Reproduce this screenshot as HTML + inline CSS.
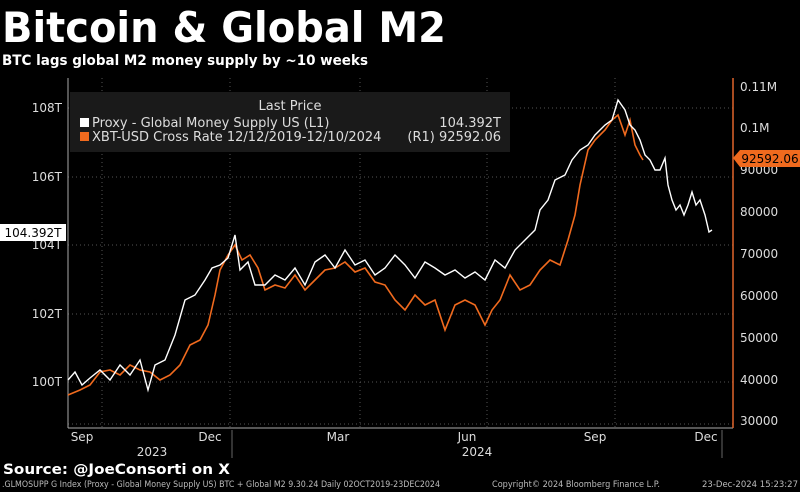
<!DOCTYPE html>
<html><head><style>
html,body{margin:0;padding:0;background:#000;}
svg{display:block}
text{font-family:"DejaVu Sans","Liberation Sans",sans-serif;}
</style></head><body>
<svg width="800" height="492" viewBox="0 0 800 492" xmlns="http://www.w3.org/2000/svg">
<rect width="800" height="492" fill="#000"/>
<text x="2" y="42" fill="#fff" font-size="42" font-weight="bold" textLength="444" lengthAdjust="spacingAndGlyphs">Bitcoin &amp; Global M2</text>
<text x="2" y="65" fill="#fff" font-size="14" font-weight="bold" textLength="366" lengthAdjust="spacingAndGlyphs">BTC lags global M2 money supply by ~10 weeks</text>
<g stroke="#555" stroke-width="1" stroke-dasharray="1,3">
<line x1="68" x2="733" y1="108" y2="108"/><line x1="68" x2="733" y1="177" y2="177"/>
<line x1="68" x2="733" y1="245" y2="245"/><line x1="68" x2="733" y1="314" y2="314"/>
<line x1="68" x2="733" y1="382" y2="382"/><line x1="68" x2="733" y1="424" y2="424"/>
<line x1="102" x2="102" y1="78" y2="428"/><line x1="230" x2="230" y1="78" y2="428"/>
<line x1="360" x2="360" y1="78" y2="428"/><line x1="487" x2="487" y1="78" y2="428"/>
<line x1="615" x2="615" y1="78" y2="428"/>
</g>
<line x1="68" x2="68" y1="78" y2="428" stroke="#aaa"/>
<line x1="68" x2="733" y1="428" y2="428" stroke="#aaa"/>
<line x1="733" x2="733" y1="78" y2="428" stroke="#e0642a" stroke-width="1.5"/>
<g fill="#ddd" font-size="12" font-family="Liberation Sans,sans-serif" text-anchor="end">
<text x="62" y="112">108T</text><text x="62" y="181">106T</text><text x="62" y="249">104T</text>
<text x="62" y="318">102T</text><text x="62" y="386">100T</text>
</g>
<g fill="#ddd" font-size="12" font-family="Liberation Sans,sans-serif">
<text x="740" y="91">0.11M</text><text x="740" y="132">0.1M</text><text x="740" y="174">90000</text>
<text x="740" y="216">80000</text><text x="740" y="258">70000</text><text x="740" y="300">60000</text>
<text x="740" y="342">50000</text><text x="740" y="384">40000</text><text x="740" y="425">30000</text>
</g>
<g fill="#ddd" font-size="12" font-family="Liberation Sans,sans-serif" text-anchor="middle">
<text x="82" y="441">Sep</text><text x="210" y="441">Dec</text><text x="338" y="441">Mar</text>
<text x="467" y="441">Jun</text><text x="595" y="441">Sep</text><text x="706" y="441">Dec</text>
<text x="152" y="456">2023</text><text x="477" y="456">2024</text>
</g>
<line x1="232" x2="232" y1="430" y2="458" stroke="#666"/>
<line x1="722" x2="722" y1="430" y2="458" stroke="#666"/>
<rect x="70" y="92" width="440" height="60" fill="#1a1a1a"/>
<g font-family="Liberation Sans,sans-serif" font-size="13" fill="#ddd">
<text x="290" y="110" text-anchor="middle">Last Price</text>
<rect x="80" y="118" width="9" height="9" fill="#fff"/>
<text x="92" y="127">Proxy - Global Money Supply US  (L1)</text>
<text x="501" y="127" text-anchor="end">104.392T</text>
<rect x="80" y="132" width="9" height="9" fill="#f06a1e"/>
<text x="92" y="141">XBT-USD Cross Rate 12/12/2019-12/10/2024</text>
<text x="501" y="141" text-anchor="end">(R1) 92592.06</text>
</g>
<polyline fill="none" stroke="#f06a1e" stroke-width="1.6" points="68,395 80,390 90,385 100,372 110,370 120,375 130,365 140,370 150,372 160,380 170,375 180,365 190,345 200,340 208,325 215,295 220,270 228,255 235,245 242,260 250,255 258,268 265,290 275,285 285,288 295,275 305,290 315,280 325,270 335,268 345,262 355,272 365,268 375,282 385,285 395,300 405,310 415,295 425,305 435,300 445,330 455,305 465,300 475,305 485,325 492,310 500,300 510,275 520,290 530,285 540,270 550,260 560,265 568,240 575,215 580,185 588,150 595,140 605,130 612,120 618,115 625,135 630,120 635,145 640,155 643,160"/>
<polyline fill="none" stroke="#fff" stroke-width="1.4" points="68,380 75,372 82,385 90,378 100,370 110,380 120,365 130,375 140,360 148,390 155,365 165,360 175,335 185,300 195,295 205,280 212,268 220,265 228,258 235,235 240,270 248,262 255,285 265,285 275,275 285,280 295,268 305,285 315,262 325,255 335,268 345,250 355,265 365,260 375,275 385,268 395,255 405,265 415,278 425,262 435,268 445,275 455,270 465,278 475,272 485,280 495,260 505,268 515,250 525,240 535,230 540,210 548,200 555,180 565,175 572,160 580,150 588,145 595,135 605,125 612,120 618,100 625,110 630,125 635,130 640,140 645,155 650,160 655,170 660,170 665,158 668,185 672,200 676,210 680,205 684,215 688,205 692,192 696,205 700,200 705,215 709,232 712,230"/>
<rect x="0" y="224" width="66" height="17" fill="#fff"/>
<text x="33" y="237" text-anchor="middle" font-family="Liberation Sans,sans-serif" font-size="12" fill="#000">104.392T</text>
<polygon points="733,158 740,150 800,150 800,167 740,167" fill="#f06a1e"/>
<text x="770" y="163" text-anchor="middle" font-family="Liberation Sans,sans-serif" font-size="12" fill="#000">92592.06</text>
<text x="3" y="474" fill="#fff" font-size="14" font-weight="bold" textLength="227" lengthAdjust="spacingAndGlyphs">Source: @JoeConsorti on X</text>
<g fill="#bbb" font-size="9" font-family="Liberation Sans,sans-serif">
<text x="2" y="487" textLength="438" lengthAdjust="spacingAndGlyphs">.GLMOSUPP G Index (Proxy - Global Money Supply US) BTC + Global M2 9.30.24  Daily 02OCT2019-23DEC2024</text>
<text x="492" y="487" textLength="168" lengthAdjust="spacingAndGlyphs">Copyright© 2024 Bloomberg Finance L.P.</text>
<text x="702" y="487" textLength="96" lengthAdjust="spacingAndGlyphs">23-Dec-2024 15:23:27</text>
</g>
</svg>
</body></html>
